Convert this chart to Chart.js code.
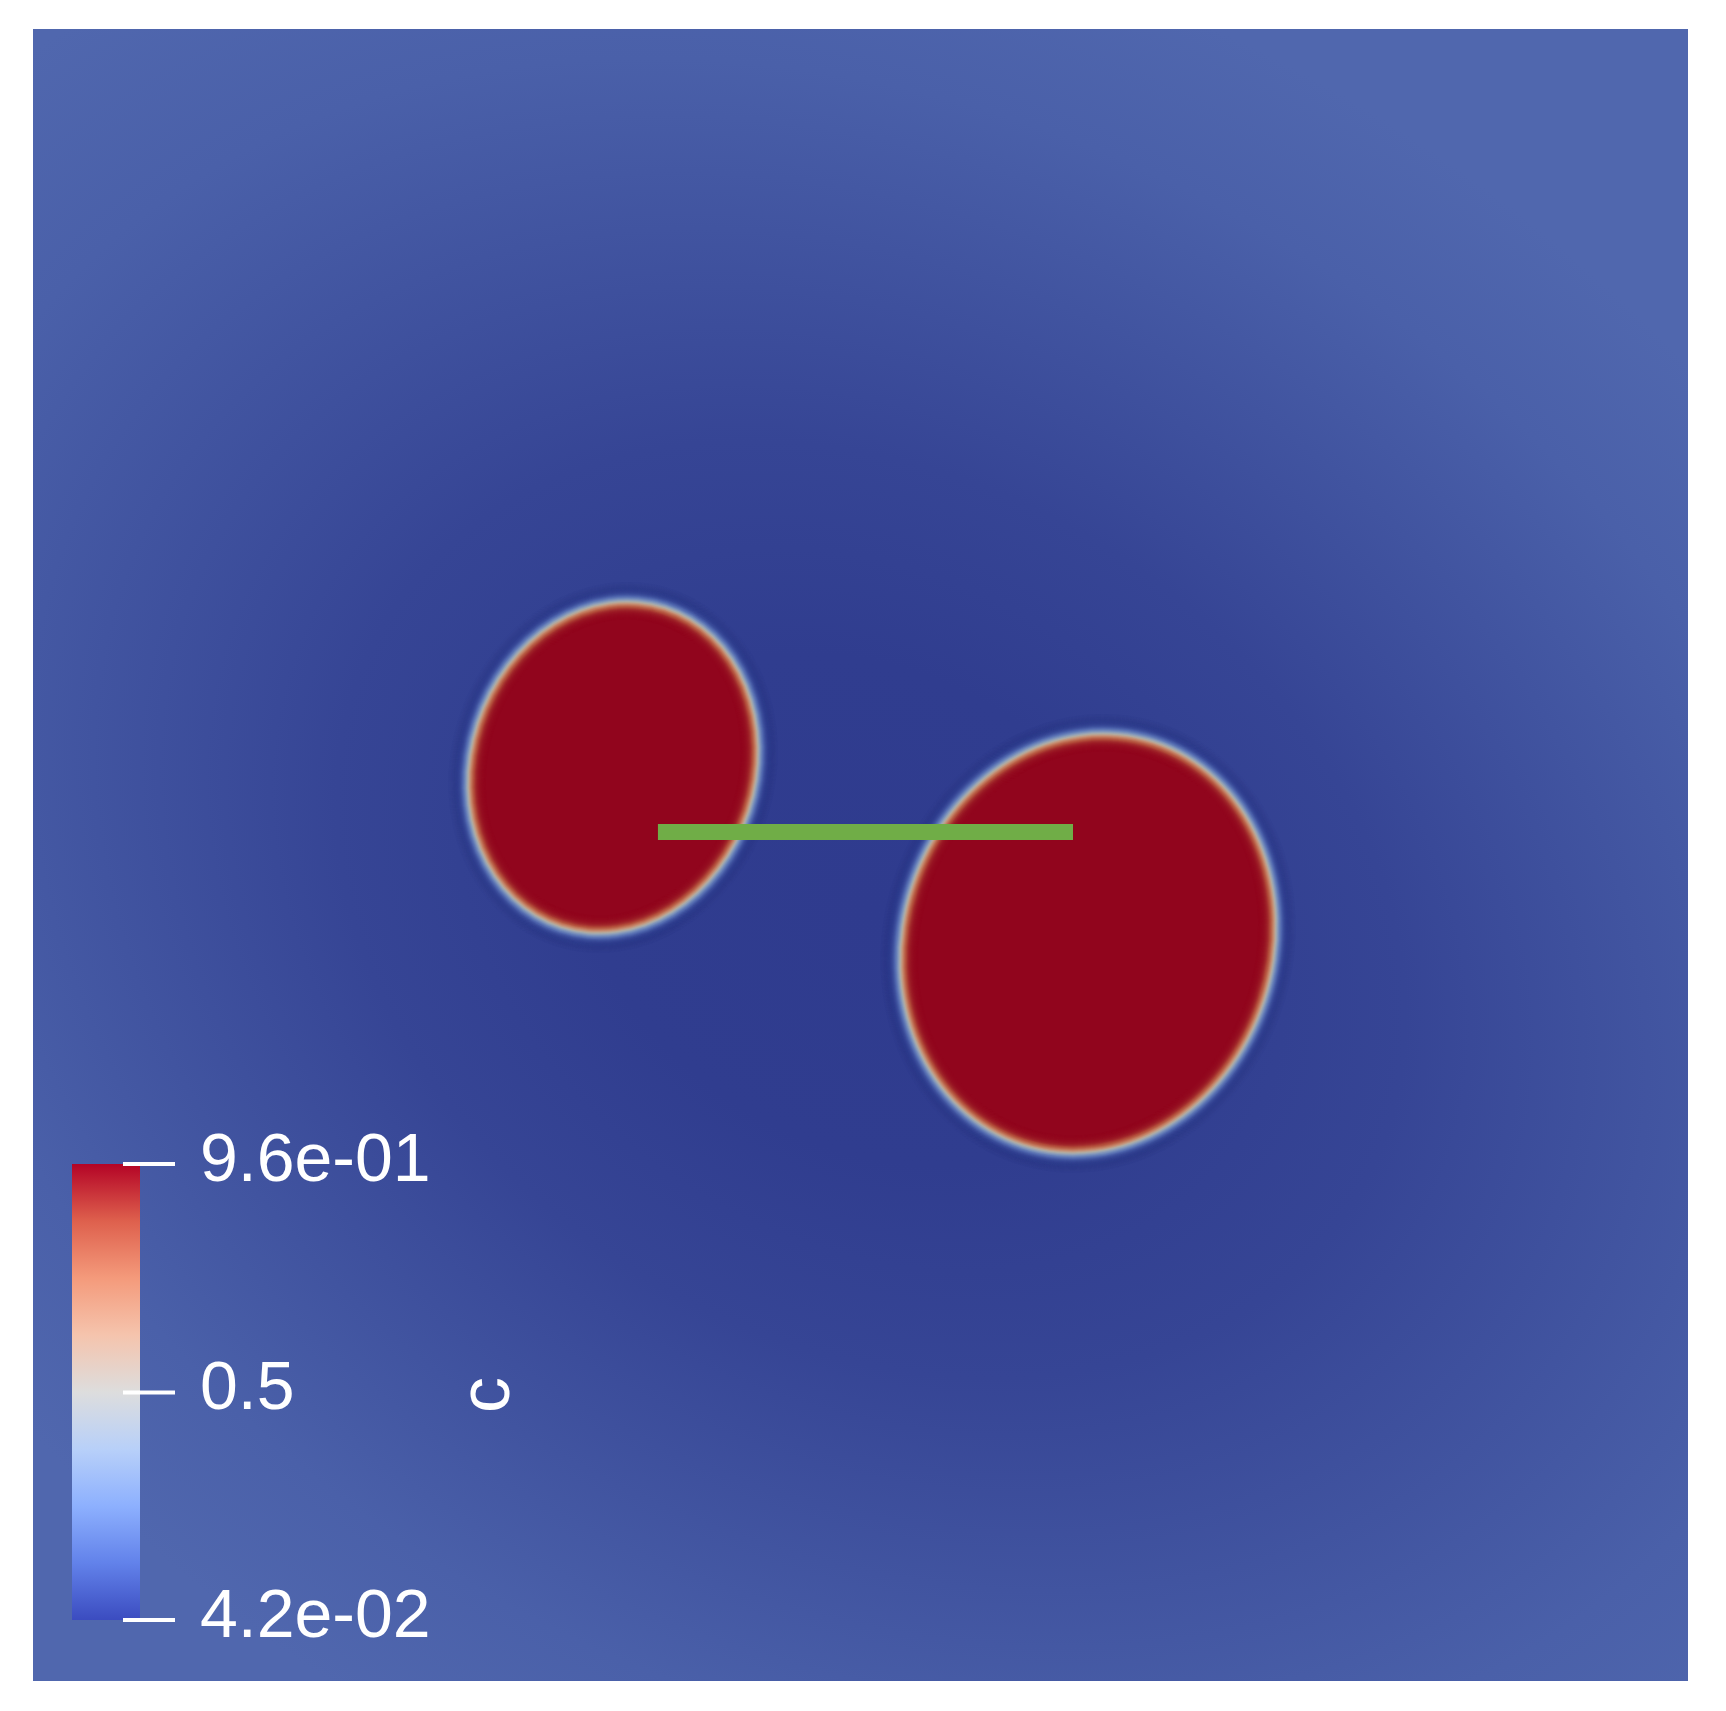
<!DOCTYPE html>
<html>
<head>
<meta charset="utf-8">
<script src="https://cdn.jsdelivr.net/npm/chart.js@4.4.1/dist/chart.umd.min.js"></script>
<style>
  html, body { margin: 0; padding: 0; background: #fff; }
  #wrap { width: 1726px; height: 1711px; }
</style>
</head>
<body>
<div id="wrap"><canvas id="campo" width="1726" height="1711"></canvas></div>
<script>
// dominio 0..100 en ambos ejes
const dropletCenterX = [35.05, 63.75];
const dropletCenterY = [55.3, 44.65];
const dropletRadiusX = [8.62, 11.2];
const dropletRadiusY = [10.18, 12.85];
const dropletTiltDeg = [18, 18];

// segmento verde entre las gotas
const segmentX = [37.76, 62.84];
const segmentY = [51.39, 51.39];

// campo de fondo (valor normalizado segun distancia elíptica al centro)
const fieldCenter = [50.6, 46.7];
const fieldRadius = [62.0, 47.5];
const fieldTiltDeg = 30;
const fieldDist = [0, 0.3, 0.55, 0.8, 1.0, 1.2];
const fieldValue = [0.0, 0.004, 0.028, 0.072, 0.108, 0.13];

// barra de color
const colorbarMin = 0.042;
const colorbarMax = 0.96;
const colorbarTickValues = [0.96, 0.5, 0.042];
const colorbarTickLabels = ['9.6e-01', '0.5', '4.2e-02'];
const colorbarTitle = 'c';

const coolwarm = [[59,76,192],[98,130,234],[141,176,254],[184,208,249],[221,221,221],
                  [245,196,173],[244,154,123],[222,96,77],[180,4,38]];
const shade = [0.8, 0.78, 0.74]; // la iluminacion oscurece la superficie

function cmap(t, shaded) {
  t = Math.max(0, Math.min(1, t));
  const f = t * (coolwarm.length - 1);
  const i = Math.min(coolwarm.length - 2, Math.floor(f));
  const k = f - i;
  const c = [0, 1, 2].map(j => {
    let v = coolwarm[i][j] + (coolwarm[i + 1][j] - coolwarm[i][j]) * k;
    if (shaded) v *= shade[j];
    return Math.round(v);
  });
  return 'rgb(' + c.join(',') + ')';
}

const fieldPlugin = {
  id: 'fieldPlugin',
  beforeDatasetsDraw(chart) {
    const { ctx, chartArea: a, scales: { x, y } } = chart;
    ctx.save();
    ctx.beginPath();
    ctx.rect(a.left, a.top, a.right - a.left, a.bottom - a.top);
    ctx.clip();

    // fondo
    ctx.fillStyle = cmap(fieldValue[fieldValue.length - 1], true);
    ctx.fillRect(a.left, a.top, a.right - a.left, a.bottom - a.top);
    const cx = x.getPixelForValue(fieldCenter[0]);
    const cy = y.getPixelForValue(fieldCenter[1]);
    const r1 = x.getPixelForValue(fieldCenter[0] + fieldRadius[0]) - cx;
    const r2 = cy - y.getPixelForValue(fieldCenter[1] + fieldRadius[1]);
    const dmax = fieldDist[fieldDist.length - 1];
    ctx.save();
    ctx.translate(cx, cy);
    ctx.rotate(fieldTiltDeg * Math.PI / 180);
    ctx.scale(1, r2 / r1);
    const g = ctx.createRadialGradient(0, 0, 0, 0, 0, r1 * dmax);
    fieldDist.forEach((d, i) => g.addColorStop(d / dmax, cmap(fieldValue[i], true)));
    ctx.fillStyle = g;
    ctx.fillRect(-4000, -4000, 8000, 8000);
    ctx.restore();

    // gotas con interfaz difusa
    dropletCenterX.forEach((dx, i) => {
      const px = x.getPixelForValue(dx);
      const py = y.getPixelForValue(dropletCenterY[i]);
      const rx = x.getPixelForValue(dx + dropletRadiusX[i]) - px;
      const ry = py - y.getPixelForValue(dropletCenterY[i] + dropletRadiusY[i]);
      const rot = dropletTiltDeg[i] * Math.PI / 180;
      for (let d = 20; d >= -18; d -= 0.5) {
        const v = 0.5 * (1 - Math.tanh(d / 6));
        ctx.globalAlpha = d > 0 ? Math.min(1, v / 0.15) : 1;
        ctx.fillStyle = cmap(v, true);
        ctx.beginPath();
        ctx.ellipse(px, py, rx + d, ry + d, rot, 0, Math.PI * 2);
        ctx.fill();
      }
      ctx.globalAlpha = 1;
    });
    ctx.restore();
  },
  afterDatasetsDraw(chart) {
    const { ctx } = chart;
    const bx = 72, bw = 68, top = 1164, bottom = 1620;
    ctx.save();
    const g = ctx.createLinearGradient(0, bottom, 0, top);
    coolwarm.forEach((c, i) => g.addColorStop(i / (coolwarm.length - 1), 'rgb(' + c.join(',') + ')'));
    ctx.fillStyle = g;
    ctx.fillRect(bx, top, bw, bottom - top);

    ctx.strokeStyle = '#fff';
    ctx.fillStyle = '#fff';
    ctx.lineWidth = 4;
    ctx.font = '68px "Liberation Sans", Arial, sans-serif';
    ctx.textAlign = 'left';
    ctx.textBaseline = 'alphabetic';
    colorbarTickValues.forEach((v, i) => {
      const ty = bottom - (v - colorbarMin) / (colorbarMax - colorbarMin) * (bottom - top);
      ctx.beginPath();
      ctx.moveTo(123, ty);
      ctx.lineTo(175, ty);
      ctx.stroke();
      ctx.fillText(colorbarTickLabels[i], 200, ty + 17);
    });

    // titulo vertical
    ctx.translate(490, 1395);
    ctx.rotate(-Math.PI / 2);
    ctx.font = '72px "Liberation Sans", Arial, sans-serif';
    ctx.textAlign = 'center';
    ctx.fillText(colorbarTitle, 0, 72 * 0.519 / 2);
    ctx.restore();
  }
};

const config = {
  type: 'scatter',
  data: {
    datasets: [{
      label: 'segmento',
      data: segmentX.map((v, i) => ({ x: v, y: segmentY[i] })),
      showLine: true,
      borderColor: '#70AD47',
      borderWidth: 16,
      borderCapStyle: 'butt',
      pointRadius: 0
    }]
  },
  options: {
    responsive: false,
    animation: false,
    layout: { padding: { left: 33, top: 29, right: 38, bottom: 30 } },
    scales: {
      x: { type: 'linear', min: 0, max: 100, display: false },
      y: { type: 'linear', min: 0, max: 100, display: false }
    },
    plugins: {
      legend: { display: false },
      tooltip: { enabled: false }
    }
  },
  plugins: [fieldPlugin]
};

let campoChart = new Chart(document.getElementById('campo'), config);
</script>
</body>
</html>
